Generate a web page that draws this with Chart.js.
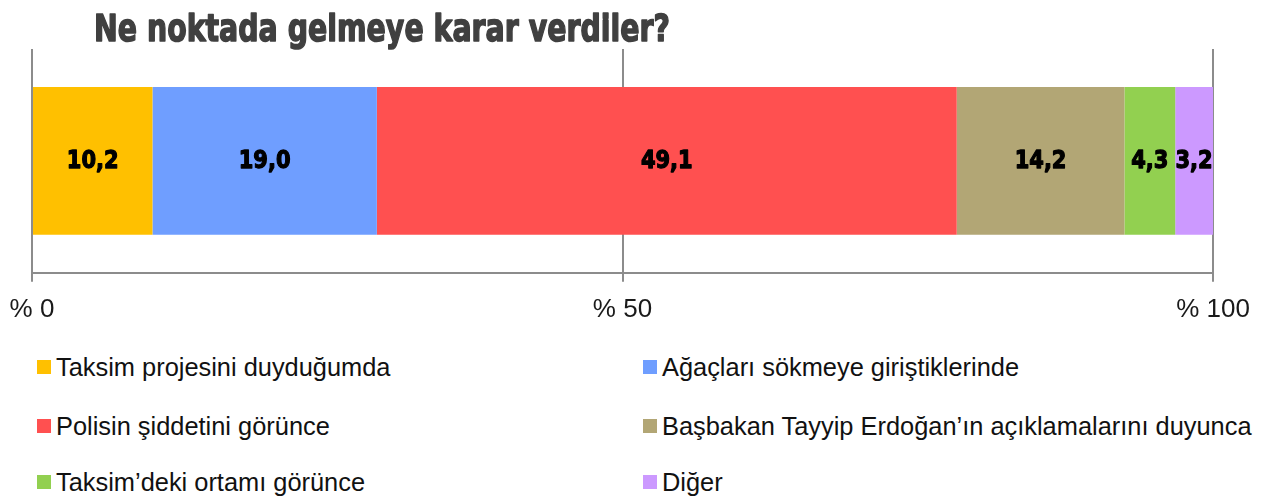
<!DOCTYPE html>
<html>
<head>
<meta charset="utf-8">
<script src="https://cdn.jsdelivr.net/npm/chart.js@4"></script>
<style>
  html, body { margin: 0; padding: 0; background: #fff; }
  #wrap { position: relative; width: 1268px; height: 503px; overflow: hidden; }
  #barChart { position: absolute; left: 0; top: 0; }
  .leg { position: absolute; height: 30px; display: flex; align-items: center;
         font-family: "Liberation Sans", Arial, sans-serif; font-size: 25.4px; color: #111; white-space: nowrap; }
  .leg span.box { width: 14px; height: 14px; margin-right: 5px; flex: none; }
</style>
</head>
<body>
<div id="wrap">
  <canvas id="barChart" width="1268" height="345"></canvas>
</div>
<script>
const titleText = 'Ne noktada gelmeye karar verdiler?';
const categories = ['Taksim projesini duyduğumda', 'Ağaçları sökmeye giriştiklerinde', 'Polisin şiddetini görünce', 'Başbakan Tayyip Erdoğan’ın açıklamalarını duyunca', 'Taksim’deki ortamı görünce', 'Diğer'];
const values = [10.2, 19.0, 49.1, 14.2, 4.3, 3.2];
const colors = ['#FFC000', '#6F9EFF', '#FF5050', '#B2A675', '#92D050', '#CC99FF'];
const tickValues = [0, 50, 100];

// title drawn on the canvas, squeezed to look like a condensed heavy face
const titlePlugin = {
    id: 'titleText',
    afterDraw(chart) {
        const ctx = chart.ctx;
        ctx.save();
        ctx.font = 'bold 38px "DejaVu Sans", sans-serif';
        ctx.fillStyle = '#404040';
        ctx.strokeStyle = '#404040';
        ctx.lineWidth = 1.6;
        ctx.lineJoin = 'round';
        ctx.textAlign = 'left';
        ctx.textBaseline = 'alphabetic';
        const w = ctx.measureText(titleText).width;
        ctx.translate(94, 41);
        ctx.scale(576 / w, 1);
        ctx.fillText(titleText, 0, 0);
        ctx.strokeText(titleText, 0, 0);
        ctx.restore();
    }
};

// value inside each segment, comma decimal
const valueLabels = {
    id: 'valueLabels',
    afterDatasetsDraw(chart) {
        const ctx = chart.ctx;
        ctx.save();
        ctx.font = 'bold 25px "DejaVu Sans", sans-serif';
        ctx.fillStyle = '#000';
        ctx.strokeStyle = '#000';
        ctx.lineWidth = 1.3;
        ctx.lineJoin = 'round';
        ctx.textAlign = 'center';
        ctx.textBaseline = 'middle';
        chart.data.datasets.forEach((ds, i) => {
            const bar = chart.getDatasetMeta(i).data[0];
            const x = (bar.x + bar.base) / 2;
            const txt = ds.data[0].toFixed(1).replace('.', ',');
            ctx.save();
            ctx.translate(x, bar.y + 1);
            ctx.scale(0.84, 1);
            ctx.fillText(txt, 0, 0);
            ctx.strokeText(txt, 0, 0);
            ctx.restore();
        });
        ctx.restore();
    }
};

new Chart('barChart', {
    type: 'bar',
    data: {
        labels: [''],
        datasets: categories.map((c, i) => ({
            label: c,
            data: [values[i]],
            backgroundColor: colors[i],
            borderWidth: 0,
            barPercentage: 1,
            categoryPercentage: 0.66
        }))
    },
    options: {
        indexAxis: 'y',
        responsive: false,
        maintainAspectRatio: false,
        animation: false,
        layout: { padding: { top: 49, left: 32, right: 55, bottom: 8 } },
        plugins: {
            legend: { display: false },
            tooltip: { enabled: false },
            title: { display: false }
        },
        scales: {
            x: {
                stacked: true,
                min: 0,
                max: 100,
                afterBuildTicks: (scale) => { scale.ticks = tickValues.map(v => ({ value: v })); },
                afterFit: (scale) => { scale.paddingLeft = 10; }, // label overhang would push the axis right
                grid: { color: '#8c8c8c', lineWidth: 2, tickLength: 9, drawTicks: true },
                border: { display: true, color: '#8c8c8c', width: 2 },
                ticks: {
                    padding: 12,
                    maxRotation: 0,
                    color: '#1a1a1a',
                    font: { family: '"Liberation Sans", Arial, sans-serif', size: 26 },
                    callback: (v) => '% ' + v
                }
            },
            y: {
                stacked: true,
                display: false
            }
        }
    },
    plugins: [titlePlugin, valueLabels]
});

// legend in two columns, three rows
const wrap = document.getElementById('wrap');
const colX = [37, 643];
const rowY = [367, 426, 482];
categories.forEach((c, i) => {
    const item = document.createElement('div');
    item.className = 'leg';
    item.style.left = colX[i % 2] + 'px';
    item.style.top = (rowY[Math.floor(i / 2)] - 15) + 'px';
    const box = document.createElement('span');
    box.className = 'box';
    box.style.background = colors[i];
    item.appendChild(box);
    item.appendChild(document.createTextNode(c));
    wrap.appendChild(item);
});
</script>
</body>
</html>
